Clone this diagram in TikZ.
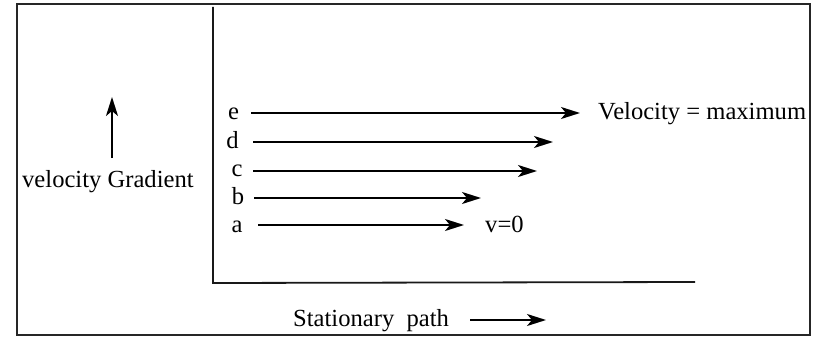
\documentclass[tikz,border=0pt]{standalone}
\usepackage{fontspec}
\setmainfont{Liberation Serif}
\usetikzlibrary{arrows.meta}
\begin{document}
\begin{tikzpicture}[x=1pt,y=-1pt,
  lbl/.style={font=\fontsize{24.6}{28}\selectfont, inner sep=0pt, anchor=base},
  lblw/.style={lbl, anchor=base west},
  flow/.style={line width=2pt, -{Stealth[length=19pt,width=12pt,inset=5pt]}},
  axisline/.style={line width=1.8pt, black!90},
  frame/.style={line width=2.2pt, black!85}]
\useasboundingbox (0,0) rectangle (836,337);
\draw[frame] (17,4) rectangle (810,335);
% axes
\coordinate (ytop) at (213,7);
\coordinate (origin) at (213,283);
\coordinate (xend) at (695,282);
\draw[axisline] (ytop) -- (origin) -- (xend);
% layer labels
\node[lbl] (le) at (233.5,120) {e};
\node[lbl] (ld) at (232.5,148) {d};
\node[lbl] (lc) at (237,176) {c};
\node[lbl] (lb) at (238,204) {b};
\node[lbl] (la) at (237,232) {a};
% velocity arrows
\coordinate (es) at (251,113); \coordinate (ee) at (580,113);
\coordinate (ds) at (253,142); \coordinate (de) at (553,142);
\coordinate (cs) at (253,171); \coordinate (ce) at (537,171);
\coordinate (bs) at (254,198); \coordinate (be) at (481,198);
\coordinate (as) at (258,225); \coordinate (ae) at (464,225);
\draw[flow] (es) -- (ee);
\draw[flow] (ds) -- (de);
\draw[flow] (cs) -- (ce);
\draw[flow] (bs) -- (be);
\draw[flow] (as) -- (ae);
\node[lblw] (vmax) at (598,120) {Velocity = maximum};
\node[lblw] (vzero) at (485,232) {v=0};
% velocity gradient
\node[lblw] (vg) at (22,187) {velocity Gradient};
\coordinate (gs) at (112,158); \coordinate (ge) at (112,97);
\draw[flow] (gs) -- (ge);
% stationary path
\node[lblw] (sp) at (293,326) {Stationary\ \ path};
\coordinate (ss) at (470,320); \coordinate (se) at (546,320);
\draw[flow] (ss) -- (se);
\end{tikzpicture}
\end{document}
